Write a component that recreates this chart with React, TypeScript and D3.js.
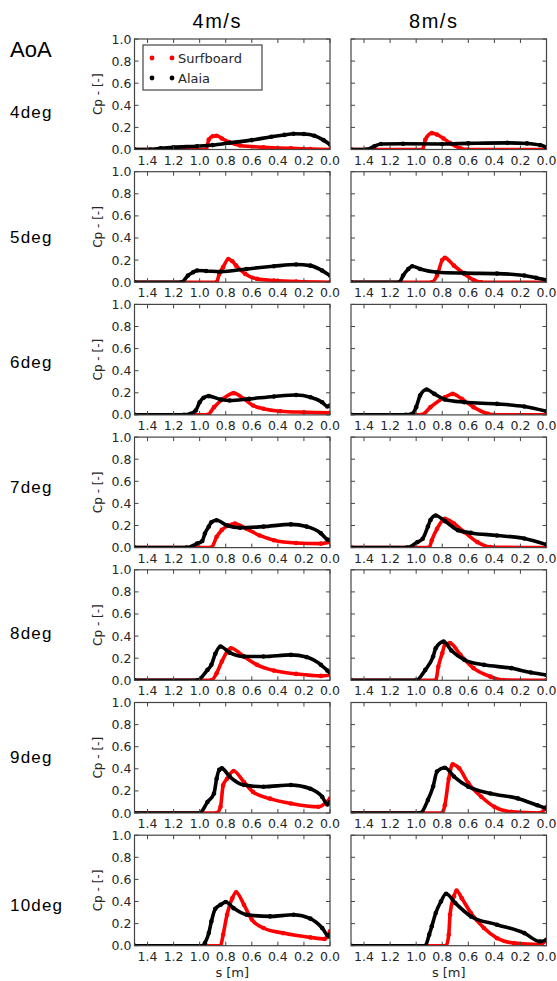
import React from 'react';
import * as d3 from 'd3';

type Pt = [number, number]; // [s in m, Cp]

const speeds = ['4m/s', '8m/s'];
const aoaLabels = ['4deg', '5deg', '6deg', '7deg', '8deg', '9deg', '10deg'];
const sTicks = [1.4, 1.2, 1.0, 0.8, 0.6, 0.4, 0.2, 0.0];
const cpTicks = [0, 0.2, 0.4, 0.6, 0.8, 1.0];
const seriesNames = ['Surfboard', 'Alaia'];

// 4 m/s
const surf4_4deg: Pt[] = [[1.5, 0], [0.95, 0], [0.93, 0.09], [0.9, 0.12], [0.87, 0.125], [0.83, 0.1], [0.77, 0.065], [0.69, 0.036], [0.51, 0.02], [0.3, 0.01], [0.15, 0.005], [0, 0]];
const alaia4_4deg: Pt[] = [[1.5, 0], [1.38, 0], [1.3, 0.01], [1.2, 0.02], [1.02, 0.03], [0.9, 0.04], [0.77, 0.06], [0.6, 0.085], [0.45, 0.115], [0.35, 0.132], [0.28, 0.142], [0.2, 0.14], [0.12, 0.125], [0.05, 0.085], [0, 0.045]];
const surf4_5deg: Pt[] = [[1.5, 0], [0.87, 0], [0.85, 0.075], [0.82, 0.136], [0.78, 0.21], [0.75, 0.19], [0.72, 0.15], [0.65, 0.075], [0.56, 0.03], [0.43, 0.015], [0.26, 0.005], [0, 0]];
const alaia4_5deg: Pt[] = [[1.5, 0], [1.14, 0], [1.09, 0.06], [1.05, 0.09], [1.02, 0.106], [0.95, 0.102], [0.84, 0.095], [0.64, 0.12], [0.43, 0.145], [0.26, 0.16], [0.15, 0.15], [0.06, 0.105], [0, 0.06]];
const surf4_6deg: Pt[] = [[1.5, 0], [0.94, 0], [0.89, 0.07], [0.82, 0.145], [0.74, 0.197], [0.66, 0.145], [0.59, 0.085], [0.51, 0.055], [0.38, 0.033], [0.2, 0.024], [0, 0.018]];
const alaia4_6deg: Pt[] = [[1.5, 0], [1.12, 0], [1.07, 0.01], [1.03, 0.04], [1.0, 0.115], [0.97, 0.155], [0.93, 0.17], [0.84, 0.14], [0.77, 0.13], [0.62, 0.145], [0.43, 0.167], [0.26, 0.18], [0.15, 0.16], [0.06, 0.115], [0.02, 0.076], [0, 0.085]];
const surf4_7deg: Pt[] = [[1.5, 0], [0.91, 0], [0.87, 0.097], [0.83, 0.16], [0.78, 0.2], [0.73, 0.218], [0.64, 0.17], [0.54, 0.11], [0.43, 0.067], [0.26, 0.042], [0.07, 0.036], [0, 0.05]];
const alaia4_7deg: Pt[] = [[1.5, 0], [1.1, 0], [1.02, 0.036], [0.98, 0.06], [0.96, 0.127], [0.93, 0.19], [0.91, 0.23], [0.87, 0.248], [0.79, 0.2], [0.69, 0.18], [0.51, 0.19], [0.3, 0.21], [0.18, 0.19], [0.07, 0.13], [0.02, 0.073], [0, 0.067]];
const surf4_8deg: Pt[] = [[1.5, 0], [0.91, 0], [0.87, 0.064], [0.83, 0.17], [0.76, 0.29], [0.66, 0.215], [0.56, 0.14], [0.43, 0.088], [0.26, 0.058], [0.07, 0.04], [0, 0.048]];
const alaia4_8deg: Pt[] = [[1.5, 0], [1.02, 0], [0.94, 0.094], [0.91, 0.14], [0.88, 0.24], [0.84, 0.306], [0.77, 0.25], [0.66, 0.215], [0.51, 0.215], [0.3, 0.23], [0.18, 0.21], [0.07, 0.14], [0.02, 0.088], [0, 0.07]];
const surf4_9deg: Pt[] = [[1.5, 0], [0.87, 0], [0.84, 0.056], [0.82, 0.25], [0.79, 0.31], [0.74, 0.38], [0.66, 0.28], [0.59, 0.19], [0.46, 0.13], [0.3, 0.086], [0.09, 0.056], [0, 0.13]];
const alaia4_9deg: Pt[] = [[1.5, 0], [1.0, 0], [0.94, 0.1], [0.89, 0.177], [0.87, 0.31], [0.85, 0.39], [0.83, 0.404], [0.77, 0.33], [0.66, 0.253], [0.51, 0.238], [0.3, 0.253], [0.15, 0.22], [0.06, 0.147], [0.02, 0.077], [0, 0.1]];
const surf4_10deg: Pt[] = [[1.5, 0], [0.84, 0], [0.82, 0.1], [0.79, 0.28], [0.75, 0.43], [0.72, 0.484], [0.66, 0.37], [0.6, 0.236], [0.51, 0.16], [0.36, 0.114], [0.15, 0.075], [0.04, 0.062], [0, 0.13]];
const alaia4_10deg: Pt[] = [[1.5, 0], [0.97, 0], [0.96, 0.023], [0.93, 0.114], [0.91, 0.22], [0.88, 0.335], [0.84, 0.37], [0.8, 0.395], [0.74, 0.34], [0.64, 0.28], [0.46, 0.265], [0.28, 0.28], [0.15, 0.245], [0.06, 0.16], [0.01, 0.084], [0, 0.1]];

// 8 m/s
const surf8_4deg: Pt[] = [[1.5, 0], [0.95, 0], [0.93, 0.088], [0.88, 0.148], [0.84, 0.135], [0.79, 0.1], [0.74, 0.058], [0.66, 0.01], [0.6, 0], [0, 0]];
const alaia8_4deg: Pt[] = [[1.5, 0], [1.38, 0], [1.32, 0.03], [1.27, 0.05], [1.1, 0.052], [0.8, 0.05], [0.6, 0.055], [0.3, 0.06], [0.15, 0.055], [0.05, 0.04], [0, 0.02]];
const surf8_5deg: Pt[] = [[1.5, 0], [0.88, 0], [0.84, 0.06], [0.8, 0.2], [0.78, 0.22], [0.71, 0.15], [0.63, 0.075], [0.56, 0.02], [0.5, 0], [0, 0]];
const alaia8_5deg: Pt[] = [[1.5, 0], [1.13, 0], [1.1, 0.06], [1.06, 0.12], [1.03, 0.145], [0.97, 0.12], [0.84, 0.09], [0.63, 0.082], [0.38, 0.078], [0.17, 0.06], [0.08, 0.04], [0, 0.02]];
const surf8_6deg: Pt[] = [[1.5, 0], [0.96, 0], [0.89, 0.07], [0.78, 0.16], [0.72, 0.19], [0.65, 0.145], [0.56, 0.07], [0.45, 0.01], [0.4, 0], [0, 0]];
const alaia8_6deg: Pt[] = [[1.5, 0], [1.08, 0], [1.03, 0.01], [1.0, 0.07], [0.97, 0.175], [0.92, 0.23], [0.86, 0.19], [0.78, 0.14], [0.63, 0.115], [0.38, 0.1], [0.17, 0.076], [0, 0.033]];
const surf8_7deg: Pt[] = [[1.5, 0], [0.9, 0], [0.88, 0.067], [0.84, 0.17], [0.78, 0.26], [0.71, 0.218], [0.63, 0.14], [0.53, 0.05], [0.43, 0.005], [0, 0]];
const alaia8_7deg: Pt[] = [[1.5, 0], [1.07, 0], [0.99, 0.05], [0.95, 0.08], [0.91, 0.19], [0.89, 0.25], [0.85, 0.29], [0.78, 0.24], [0.68, 0.157], [0.58, 0.133], [0.38, 0.11], [0.17, 0.082], [0, 0.027]];
const surf8_8deg: Pt[] = [[1.5, 0], [0.85, 0], [0.83, 0.124], [0.8, 0.245], [0.78, 0.32], [0.74, 0.336], [0.66, 0.23], [0.56, 0.11], [0.43, 0.033], [0.33, 0.003], [0, 0]];
const alaia8_8deg: Pt[] = [[1.5, 0], [1.0, 0], [0.93, 0.094], [0.87, 0.215], [0.85, 0.29], [0.79, 0.35], [0.73, 0.27], [0.63, 0.185], [0.48, 0.14], [0.27, 0.11], [0.12, 0.07], [0, 0.048]];
const surf8_9deg: Pt[] = [[1.5, 0], [0.8, 0], [0.78, 0.07], [0.75, 0.31], [0.72, 0.44], [0.67, 0.404], [0.6, 0.27], [0.5, 0.147], [0.4, 0.056], [0.27, 0.01], [0.05, 0], [0, 0.056]];
const alaia8_9deg: Pt[] = [[1.5, 0], [0.97, 0], [0.91, 0.117], [0.87, 0.24], [0.84, 0.375], [0.78, 0.41], [0.71, 0.33], [0.6, 0.238], [0.43, 0.177], [0.22, 0.132], [0.07, 0.07], [0, 0.04]];
const surf8_10deg: Pt[] = [[1.5, 0], [0.77, 0], [0.75, 0.1], [0.74, 0.28], [0.71, 0.447], [0.69, 0.5], [0.65, 0.43], [0.58, 0.296], [0.48, 0.16], [0.38, 0.068], [0.25, 0.023], [0.05, 0.01], [0, 0.053]];
const alaia8_10deg: Pt[] = [[1.5, 0], [0.93, 0], [0.9, 0.1], [0.88, 0.175], [0.85, 0.296], [0.81, 0.4], [0.77, 0.47], [0.7, 0.386], [0.58, 0.265], [0.38, 0.19], [0.17, 0.114], [0.05, 0.038], [0, 0.053]];

const surfboard = [
  [surf4_4deg, surf4_5deg, surf4_6deg, surf4_7deg, surf4_8deg, surf4_9deg, surf4_10deg],
  [surf8_4deg, surf8_5deg, surf8_6deg, surf8_7deg, surf8_8deg, surf8_9deg, surf8_10deg],
];
const alaia = [
  [alaia4_4deg, alaia4_5deg, alaia4_6deg, alaia4_7deg, alaia4_8deg, alaia4_9deg, alaia4_10deg],
  [alaia8_4deg, alaia8_5deg, alaia8_6deg, alaia8_7deg, alaia8_8deg, alaia8_9deg, alaia8_10deg],
];

// layout
const W = 557, H = 981;
const colX = [134.5, 351];
const top0 = 39;
const rowStep = 132.7;
const pw = 195.5;
const ph = 110.5;
const rowLabelY = [118, 243, 368, 493, 639, 763, 911];
const frame = '#444';
const textCol = '#262626';
const tickFont = 'DejaVu Sans, sans-serif';
const docFont = 'Liberation Sans, Arial, sans-serif';

const x = d3.scaleLinear().domain([1.5, 0]).range([0, pw]);
const y = d3.scaleLinear().domain([0, 1]).range([ph, 0]);
const line = d3.line<Pt>().x(d => x(d[0])).y(d => y(d[1])).curve(d3.curveMonotoneX);

const Series = ({ pts, color }: { pts: Pt[]; color: string }) => (
  <g>
    <path d={line(pts) || ''} fill="none" stroke={color} strokeWidth={3.6} strokeLinejoin="round" strokeLinecap="round" />
    {pts.map((d, i) => (
      <circle key={i} cx={x(d[0])} cy={y(d[1])} r={2.3} fill={color} />
    ))}
  </g>
);

const Panel = ({ col, row }: { col: number; row: number }) => {
  const left = colX[col];
  const top = top0 + row * rowStep;
  const id = `clip-${col}-${row}`;
  return (
    <g transform={`translate(${left},${top})`}>
      <defs>
        <clipPath id={id}>
          <rect x={0} y={0} width={pw} height={ph} />
        </clipPath>
      </defs>
      <rect x={0} y={0} width={pw} height={ph} fill="#fff" />
      <g clipPath={`url(#${id})`}>
        <Series pts={surfboard[col][row]} color="#ff0000" />
        <Series pts={alaia[col][row]} color="#000" />
      </g>
      {/* inward ticks on all four sides */}
      {sTicks.map(t => (
        <g key={`xt${t}`} stroke={frame} strokeWidth={1}>
          <line x1={x(t)} x2={x(t)} y1={ph} y2={ph - 4} />
          <line x1={x(t)} x2={x(t)} y1={0} y2={4} />
        </g>
      ))}
      {cpTicks.map(t => (
        <g key={`yt${t}`} stroke={frame} strokeWidth={1}>
          <line x1={0} x2={4} y1={y(t)} y2={y(t)} />
          <line x1={pw} x2={pw - 4} y1={y(t)} y2={y(t)} />
        </g>
      ))}
      <rect x={0} y={0} width={pw} height={ph} fill="none" stroke={frame} strokeWidth={1.2} />
      {sTicks.map(t => (
        <text key={`xl${t}`} x={x(t)} y={ph + 15} textAnchor="middle" fontFamily={tickFont} fontSize={12.5} fill={textCol}>
          {t.toFixed(1)}
        </text>
      ))}
      {col === 0 && cpTicks.map(t => (
        <text key={`yl${t}`} x={-3} y={y(t)} dy="0.36em" textAnchor="end" fontFamily={tickFont} fontSize={12.5} fill={textCol}>
          {t.toFixed(1)}
        </text>
      ))}
      {col === 0 && (
        <text transform={`translate(-33,${ph / 2}) rotate(-90)`} textAnchor="middle" fontFamily={tickFont} fontSize={12} fill={textCol}>
          Cp -  [-]
        </text>
      )}
    </g>
  );
};

const Legend = () => {
  const lx = colX[0] + 8.5;
  const ly = top0 + 6;
  return (
    <g transform={`translate(${lx},${ly})`}>
      <rect x={0} y={0} width={119} height={45} fill="#fff" stroke={frame} strokeWidth={1.2} />
      {seriesNames.map((name, i) => {
        const c = i === 0 ? '#ff0000' : '#000';
        const yy = 13 + i * 20;
        return (
          <g key={name}>
            <circle cx={9} cy={yy} r={2.4} fill={c} />
            <circle cx={29} cy={yy} r={2.4} fill={c} />
            <text x={35} y={yy + 4.5} fontFamily={tickFont} fontSize={13} fill={textCol}>{name}</text>
          </g>
        );
      })}
    </g>
  );
};

export default function App() {
  return (
    <svg width={W} height={H} style={{ position: 'absolute', left: 0, top: 0, background: '#fff' }}>
      <rect width={W} height={H} fill="#fff" />
      {speeds.map((s, c) => (
        <text key={s} x={colX[c] + pw / 2 - 15} y={28} textAnchor="middle" fontFamily={docFont} fontSize={20} letterSpacing={1.5} fill="#000">
          {s}
        </text>
      ))}
      <text x={10} y={57} fontFamily={docFont} fontSize={22} fill="#000">AoA</text>
      {aoaLabels.map((l, r) => (
        <text key={l} x={10} y={rowLabelY[r]} fontFamily={docFont} fontSize={17} letterSpacing={1.2} fill="#000">{l}</text>
      ))}
      {aoaLabels.map((_, r) => speeds.map((_, c) => <Panel key={`${c}-${r}`} col={c} row={r} />))}
      <Legend />
      {speeds.map((s, c) => (
        <text key={`sl${s}`} x={colX[c] + pw / 2} y={977} textAnchor="middle" fontFamily={tickFont} fontSize={13} fill={textCol}>
          s [m]
        </text>
      ))}
    </svg>
  );
}
